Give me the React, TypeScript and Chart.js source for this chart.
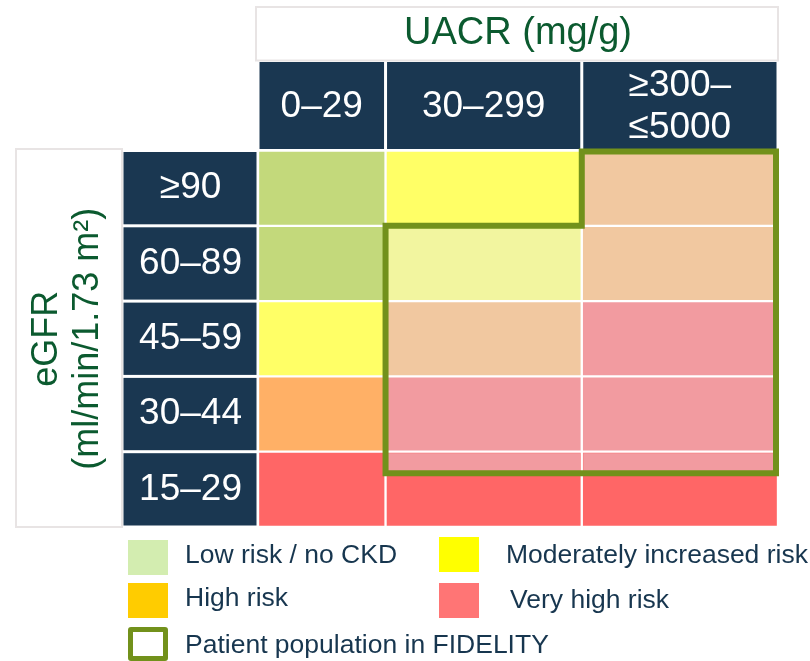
import React, { useEffect, useRef } from 'react';
import { Chart, registerables } from 'chart.js';

Chart.register(...registerables);

// ---------- data ----------
const egfrCategories = ['≥90', '60–89', '45–59', '30–44', '15–29'];
const egfrBandHigh = [120, 89, 59, 44, 29];
const egfrBandLow = [90, 60, 45, 30, 15];
const uacrCategories = [['0–29'], ['30–299'], ['≥300–', '≤5000']];
const uacrTitle = 'UACR (mg/g)';
const egfrTitle = ['eGFR', '(ml/min/1.73 m²)'];

// KDIGO risk level of each cell, one list per UACR column (rows = eGFR categories)
const risk_0_29 = ['low', 'low', 'moderate', 'high', 'veryHigh'];
const risk_30_299 = ['moderate', 'moderate', 'high', 'veryHigh', 'veryHigh'];
const risk_300_5000 = ['high', 'high', 'veryHigh', 'veryHigh', 'veryHigh'];
const riskColumns = [risk_0_29, risk_30_299, risk_300_5000];

// FIDELITY population: first eGFR row included per UACR column (null = excluded), lower eGFR bound
const fidelityFirstRow = [null, 1, 0];
const fidelityEgfrMin = 25;

const legendKeys = ['low', 'moderate', 'high', 'veryHigh'];
const legendLabels = ['Low risk / no CKD', 'Moderately increased risk', 'High risk', 'Very high risk'];
const fidelityLabel = 'Patient population in FIDELITY';

// ---------- styles ----------
const FONT = '"Liberation Sans", Arial, Helvetica, sans-serif';
const NAVY = '#1a3751';
const TITLE_GREEN = '#0b5a2f';
const OUTLINE_GREEN = '#72911b';
const LEGEND_TEXT = '#17364f';
const cellColors: Record<string, string> = {
  low: '#c3d97b',
  moderate: '#ffff66',
  high: '#ffb066',
  veryHigh: '#ff6666',
};
const fidelityCellColors: Record<string, string> = {
  low: '#d8e8a8',
  moderate: '#f2f59f',
  high: '#f1c8a0',
  veryHigh: '#f29ba0',
};
const legendColors: Record<string, string> = {
  low: '#d3edb0',
  moderate: '#ffff00',
  high: '#ffcc00',
  veryHigh: '#ff7575',
};

// layout helpers
const colWeights = [0.65, 1, 1];
const colEdges = colWeights.reduce((acc, w) => [...acc, acc[acc.length - 1] + w], [0] as number[]);
const colCenters = colWeights.map((_, j) => (colEdges[j] + colEdges[j + 1]) / 2);
const HEADER_H = 90;
const ROWHEAD_W = 136;
const GAP = 1.5;

function egfrToIndex(v: number) {
  for (let i = 0; i < egfrBandLow.length; i++) {
    if (v >= egfrBandLow[i]) {
      return i - 0.5 + (egfrBandHigh[i] - v) / (egfrBandHigh[i] - egfrBandLow[i]);
    }
  }
  return egfrBandLow.length - 0.5;
}
const fidelityBottomIndex = egfrToIndex(fidelityEgfrMin);

function cellInFidelity(col: number, row: number) {
  const first = fidelityFirstRow[col];
  if (first === null) return false;
  return row >= first && row + 0.5 <= fidelityBottomIndex;
}

const decorPlugin = {
  id: 'tableDecor',
  beforeDraw(chart: any) {
    const { ctx, chartArea: ca, scales } = chart;
    const x = scales.x;
    const y = scales.y;
    const band = y.getPixelForValue(1) - y.getPixelForValue(0);
    const headerTop = ca.top - HEADER_H;
    ctx.save();
    ctx.fillStyle = '#ffffff';
    ctx.fillRect(0, 0, chart.width, chart.height);
    // title boxes
    ctx.strokeStyle = '#e8e4e4';
    ctx.lineWidth = 2;
    ctx.strokeRect(ca.left - 2, 7, ca.right - ca.left + 2, headerTop - 7);
    ctx.strokeRect(16, ca.top - 1.5, ca.left - ROWHEAD_W - 16, ca.bottom - ca.top + 1.5);
    // column header boxes
    ctx.fillStyle = NAVY;
    for (let j = 0; j < uacrCategories.length; j++) {
      const l = x.getPixelForValue(colEdges[j]);
      const r = x.getPixelForValue(colEdges[j + 1]);
      ctx.fillRect(l + GAP, headerTop + GAP, r - l - 2 * GAP, HEADER_H - 2 * GAP);
    }
    // row header boxes
    for (let i = 0; i < egfrCategories.length; i++) {
      const c = y.getPixelForValue(i);
      ctx.fillRect(ca.left - ROWHEAD_W + GAP, c - band / 2 + GAP, ROWHEAD_W - 2 * GAP, band - 2 * GAP);
    }
    ctx.restore();
  },
  afterDatasetsDraw(chart: any) {
    const { ctx, scales } = chart;
    const x = scales.x;
    const y = scales.y;
    const band = y.getPixelForValue(1) - y.getPixelForValue(0);
    const rowTop = (idx: number) => y.getPixelForValue(idx) - band / 2;
    const bottomPx = y.getPixelForValue(fidelityBottomIndex);
    const partialRow = Math.floor(fidelityBottomIndex + 0.5);
    ctx.save();
    // partially included row (eGFR 25–29)
    const cols = fidelityFirstRow.map((f, j) => (f === null ? -1 : j)).filter((j) => j >= 0);
    for (const j of cols) {
      const l = x.getPixelForValue(colEdges[j]);
      const r = x.getPixelForValue(colEdges[j + 1]);
      const t = rowTop(partialRow);
      ctx.fillStyle = fidelityCellColors[riskColumns[j][partialRow]];
      ctx.fillRect(l + GAP, t + GAP, r - l - 2 * GAP, bottomPx - t - GAP);
    }
    // outline
    const pts: [number, number][] = [];
    for (const j of cols) {
      const top = rowTop(fidelityFirstRow[j] as number) + (fidelityFirstRow[j] === 0 ? 1 : 0);
      pts.push([x.getPixelForValue(colEdges[j]), top]);
      pts.push([x.getPixelForValue(colEdges[j + 1]) - (j === uacrCategories.length - 1 ? 2 : 0), top]);
    }
    const last = cols[cols.length - 1];
    const first = cols[0];
    pts.push([x.getPixelForValue(colEdges[last + 1]) - 2, bottomPx]);
    pts.push([x.getPixelForValue(colEdges[first]), bottomPx]);
    ctx.beginPath();
    pts.forEach(([px, py], k) => (k === 0 ? ctx.moveTo(px, py) : ctx.lineTo(px, py)));
    ctx.closePath();
    ctx.strokeStyle = OUTLINE_GREEN;
    ctx.lineWidth = 6;
    ctx.lineJoin = 'miter';
    ctx.stroke();
    ctx.restore();
  },
};

export default function App() {
  const canvasRef = useRef<HTMLCanvasElement | null>(null);

  useEffect(() => {
    if (!canvasRef.current) return;
    const datasets = riskColumns.map((col, j) => ({
      label: uacrCategories[j].join(' '),
      data: egfrCategories.map(() => [colEdges[j], colEdges[j + 1]]),
      backgroundColor: col.map((r, i) => (cellInFidelity(j, i) ? fidelityCellColors[r] : cellColors[r])),
      borderColor: '#ffffff',
      borderWidth: GAP,
      borderSkipped: false,
      grouped: false,
      barPercentage: 1,
      categoryPercentage: 1,
    }));
    const chart = new Chart(canvasRef.current, {
      type: 'bar',
      data: { labels: egfrCategories, datasets: datasets as any },
      options: {
        indexAxis: 'y',
        animation: false,
        responsive: true,
        maintainAspectRatio: false,
        layout: { padding: { left: 0, top: 0, right: 32, bottom: 134 } },
        plugins: { legend: { display: false }, tooltip: { enabled: false } },
        scales: {
          x: {
            type: 'linear',
            position: 'top',
            min: 0,
            max: colEdges[colEdges.length - 1],
            grid: { display: false, drawTicks: false },
            border: { display: false },
            afterBuildTicks: (s: any) => {
              s.ticks = colCenters.map((v) => ({ value: v }));
            },
            afterFit: (s: any) => {
              s.height = 150.5;
            },
            ticks: {
              autoSkip: false,
              maxRotation: 0,
              minRotation: 0,
              padding: 23,
              crossAlign: 'center',
              color: '#ffffff',
              font: { family: FONT, size: 37, lineHeight: 1.135 },
              callback: (_v: any, i: number) => uacrCategories[i],
            },
            title: {
              display: true,
              text: uacrTitle,
              color: TITLE_GREEN,
              font: { family: FONT, size: 38, lineHeight: 1 },
              padding: { top: 15, bottom: 0 },
            },
          },
          y: {
            type: 'category',
            position: 'left',
            offset: true,
            grid: { display: false, drawTicks: false },
            border: { display: false },
            afterFit: (s: any) => {
              s.width = 258;
            },
            ticks: {
              padding: 16,
              crossAlign: 'center',
              color: '#ffffff',
              font: { family: FONT, size: 37, lineHeight: 1.135 },
            },
            title: {
              display: true,
              text: egfrTitle,
              color: TITLE_GREEN,
              font: { family: FONT, size: 36, lineHeight: 1.14 },
              padding: { top: 26.5, bottom: 0 },
            },
          },
        },
      } as any,
      plugins: [decorPlugin],
    });
    return () => chart.destroy();
  }, []);

  const legendItems = [
    { key: legendKeys[0], label: legendLabels[0], sx: 128, sy: 540, tx: 185, ty: 537 },
    { key: legendKeys[1], label: legendLabels[1], sx: 439, sy: 537, tx: 506, ty: 537 },
    { key: legendKeys[2], label: legendLabels[2], sx: 128, sy: 583, tx: 185, ty: 580 },
    { key: legendKeys[3], label: legendLabels[3], sx: 439, sy: 583, tx: 510, ty: 582 },
  ];

  const textStyle = (tx: number, ty: number): React.CSSProperties => ({
    position: 'absolute',
    left: tx,
    top: ty,
    height: 35,
    lineHeight: '35px',
    fontFamily: FONT,
    fontSize: 26.5,
    color: LEGEND_TEXT,
    whiteSpace: 'nowrap',
  });

  return (
    <div style={{ position: 'fixed', left: 0, top: 0, width: 810, height: 661, background: '#ffffff', overflow: 'hidden' }}>
      <div style={{ position: 'absolute', left: 0, top: 0, width: 810, height: 661 }}>
        <canvas ref={canvasRef} />
      </div>
      {legendItems.map((it) => (
        <React.Fragment key={it.key}>
          <div style={{ position: 'absolute', left: it.sx, top: it.sy, width: 40, height: 35, background: legendColors[it.key] }} />
          <div style={textStyle(it.tx, it.ty)}>{it.label}</div>
        </React.Fragment>
      ))}
      <div
        style={{
          position: 'absolute',
          left: 128,
          top: 627,
          width: 40,
          height: 34,
          boxSizing: 'border-box',
          border: `5px solid ${OUTLINE_GREEN}`,
          borderRadius: 3,
          background: '#ffffff',
        }}
      />
      <div style={textStyle(185, 627)}>{fidelityLabel}</div>
    </div>
  );
}
